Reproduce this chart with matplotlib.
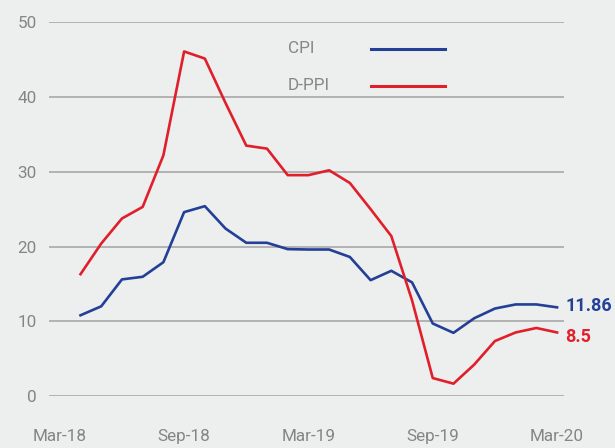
import matplotlib
matplotlib.use("Agg")
import matplotlib.pyplot as plt

months = ["Apr-18", "May-18", "Jun-18", "Jul-18", "Aug-18", "Sep-18", "Oct-18", "Nov-18",
          "Dec-18", "Jan-19", "Feb-19", "Mar-19", "Apr-19", "May-19", "Jun-19", "Jul-19",
          "Aug-19", "Sep-19", "Oct-19", "Nov-19", "Dec-19", "Jan-20", "Feb-20", "Mar-20"]
cpi = [10.8, 12.0, 15.6, 15.95, 17.9, 24.6, 25.4, 22.4, 20.5, 20.5, 19.65, 19.6,
       19.6, 18.6, 15.5, 16.75, 15.2, 9.7, 8.45, 10.4, 11.7, 12.25, 12.25, 11.86]
dppi = [16.3, 20.4, 23.75, 25.3, 32.2, 46.1, 45.15, 39.2, 33.5, 33.1, 29.55, 29.55,
        30.2, 28.5, 25.0, 21.4, 12.8, 2.4, 1.65, 4.2, 7.35, 8.5, 9.1, 8.5]
tick_labels = ["Mar-18", "Sep-18", "Mar-19", "Sep-19", "Mar-20"]
tick_pos = [-1, 5, 11, 17, 23]

bg = "#edefee"
blue = "#233f96"
red = "#e01f2b"
grey = "#858585"

plt.rcParams["font.family"] = ["Roboto", "DejaVu Sans"]

fig = plt.figure(figsize=(6.15, 4.48), dpi=100, facecolor=bg)
ax = fig.add_axes([0.0797, 0.1161, 0.8379, 0.8341])
ax.set_facecolor(bg)

x = list(range(len(months)))
ax.plot(x, cpi, color=blue, lw=1.9, clip_on=False, zorder=3)
ax.plot(x, dppi, color=red, lw=1.9, clip_on=False, zorder=3)

ax.set_xlim(-1.52, 23.35)
ax.set_ylim(0, 50)
ax.set_yticks(range(0, 51, 10))
ax.set_xticks(tick_pos)
ax.set_xticklabels(tick_labels)
ax.grid(axis="y", color="#a8a8a8", lw=1.2)
ax.set_axisbelow(True)
for s in ax.spines.values():
    s.set_visible(False)
ax.tick_params(axis="both", length=0, labelsize=12.3, labelcolor=grey)
ax.tick_params(axis="x", pad=24)
ax.tick_params(axis="y", pad=9)

# legend: label on the left, line sample on the right
for name, col, ly in [("CPI", blue, 0.929), ("D-PPI", red, 0.83)]:
    ax.text(0.464, ly, name, transform=ax.transAxes, color=grey, fontsize=12.3,
            ha="left", va="center")
    ax.plot([0.625, 0.7685], [ly, ly], transform=ax.transAxes, color=col, lw=2.2)

ax.annotate(f"{cpi[-1]:.2f}", xy=(x[-1], cpi[-1]), xytext=(6, 1), textcoords="offset points",
            color=blue, fontsize=13, fontweight="bold", va="center", ha="left",
            annotation_clip=False)
ax.annotate(f"{dppi[-1]:g}", xy=(x[-1], dppi[-1]), xytext=(6, -3), textcoords="offset points",
            color=red, fontsize=13, fontweight="bold", va="center", ha="left",
            annotation_clip=False)

fig.savefig("out.png", dpi=100, facecolor=bg)
